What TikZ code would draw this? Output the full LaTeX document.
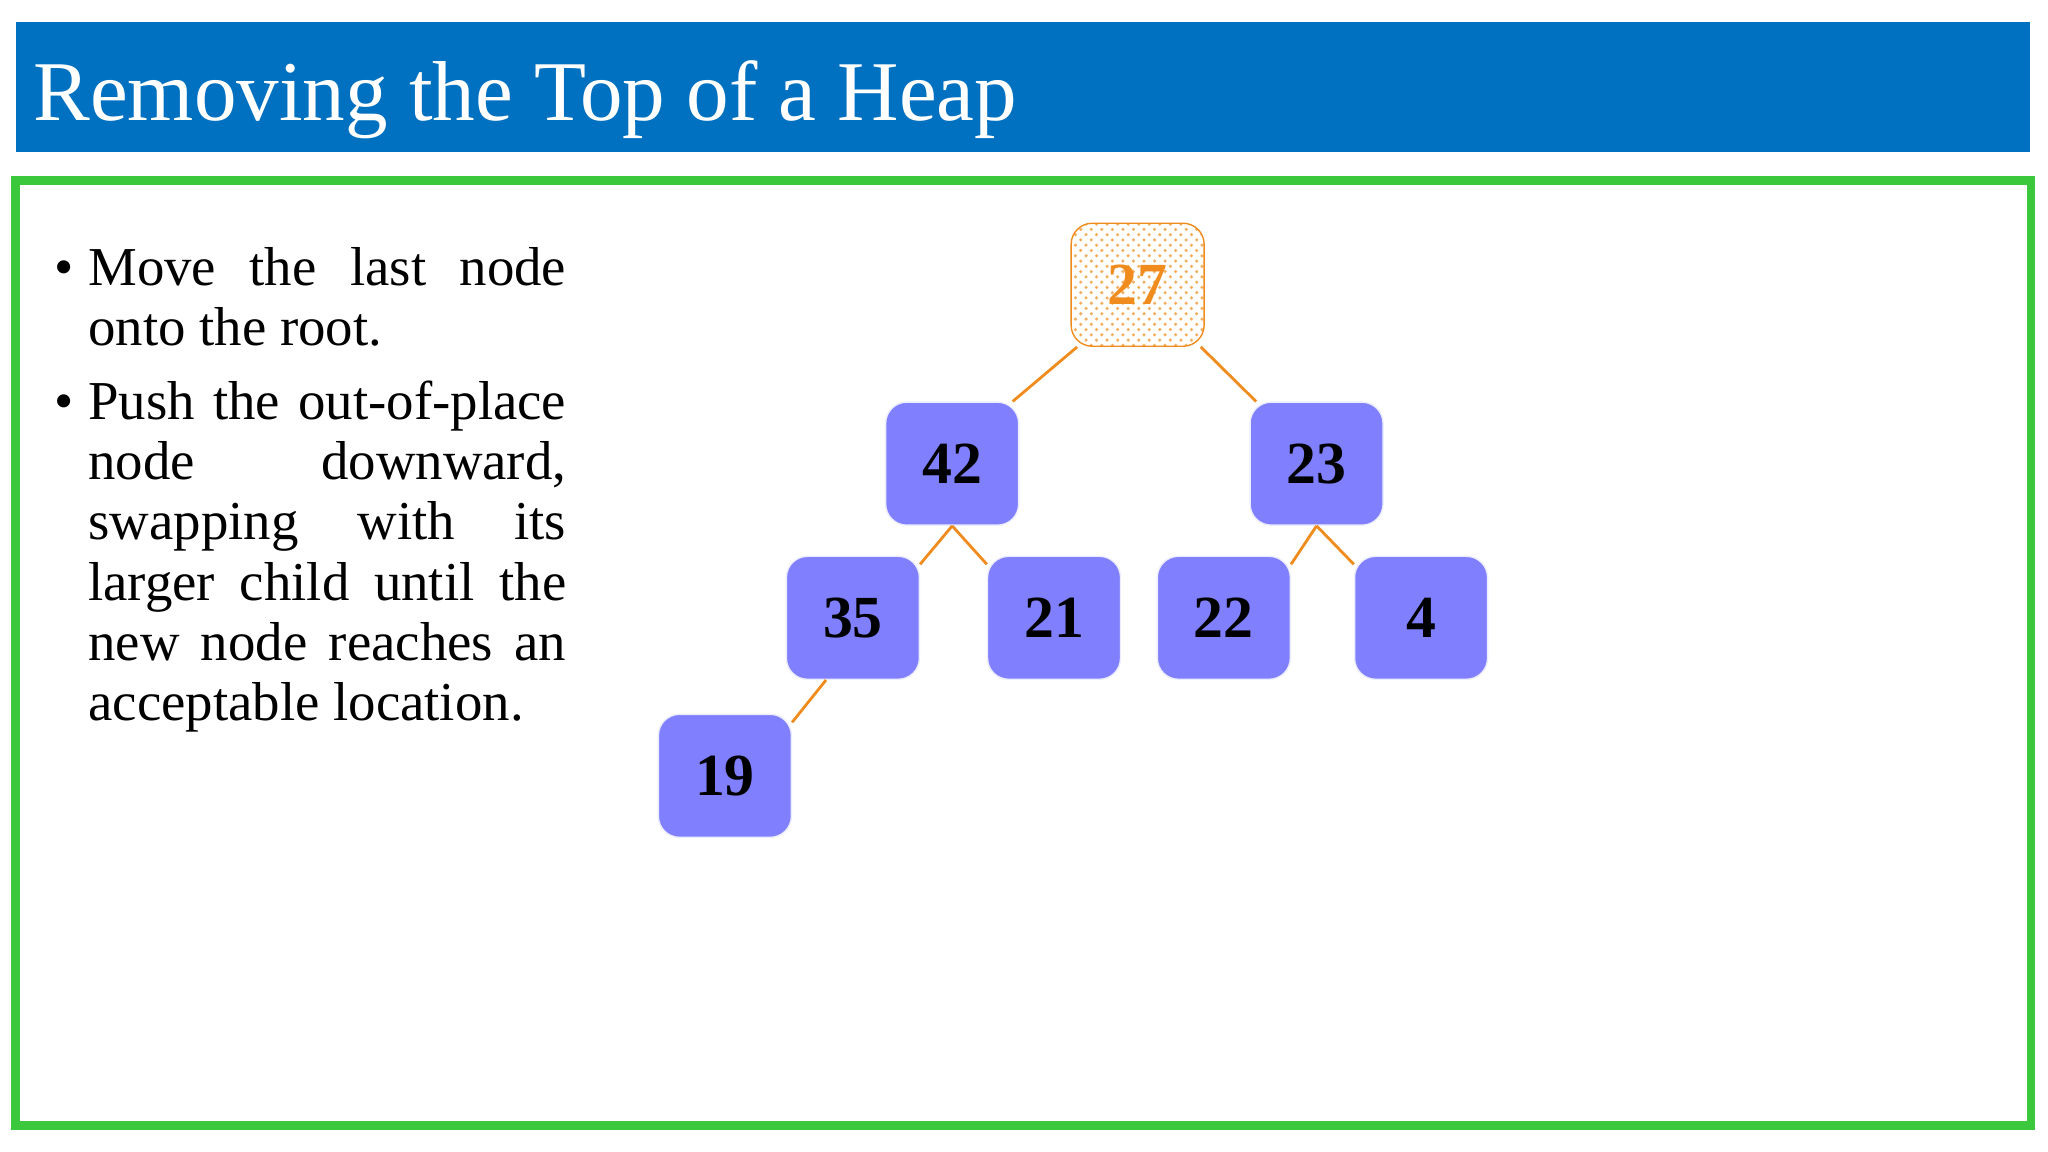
\documentclass[tikz,border=0pt]{standalone}
\usepackage{fontspec}
\setmainfont{Liberation Serif}
\usepackage{enumitem}
\usetikzlibrary{patterns,calc}

\definecolor{titleblue}{RGB}{0,112,192}
\definecolor{framegreen}{RGB}{60,200,60}
\definecolor{heapfill}{RGB}{128,128,255}
\definecolor{edgeorange}{RGB}{240,140,30}

\tikzset{
  heapnode/.style={rectangle, rounded corners=6pt, draw=white!85!heapfill, fill=heapfill,
    minimum width=1.33cm, minimum height=1.23cm, font=\fontsize{17}{17}\selectfont\bfseries},
  rootnode/.style={heapnode, draw=edgeorange, fill=white, pattern=crosshatch dots, pattern color=edgeorange!70,
    text=edgeorange},
  heapedge/.style={draw=edgeorange, line width=0.8pt},
}

\begin{document}
\begin{tikzpicture}[x=0.013061cm, y=-0.013061cm]
\useasboundingbox (0,0) rectangle (1568,882);

% title bar
\fill[titleblue] (12,17) rectangle (1554,116);
\node[anchor=base west, text=white, inner sep=0pt, font=\fontsize{24.2}{26}\selectfont] (title) at (25,92) {Removing the Top of a Heap};

% frame
\draw[framegreen, line width=2.5pt] (12,138) rectangle (1555,862);

% text column
\node[anchor=north west, inner sep=0pt, text width=5.16cm, align=justify, font=\fontsize{15.6}{17.1}\selectfont] (bullets) at (38,172) {%
\begin{itemize}[leftmargin=0.38cm, labelsep=0.15cm, itemsep=4pt, topsep=0pt, parsep=0pt]
\item Move the last node onto the root.
\item Push the out-of-place node downward, swapping with its larger child until the new node reaches an acceptable location.
\end{itemize}};

% heap
\node[rootnode] (n27) at (871,218) {27};
\node[heapnode] (n42) at (729,355) {42};
\node[heapnode] (n23) at (1008,355) {23};
\node[heapnode] (n35) at (653,473) {35};
\node[heapnode] (n21) at (807,473) {21};
\node[heapnode] (n22) at (937,473) {22};
\node[heapnode] (n4) at (1088,473) {4};
\node[heapnode] (n19) at (555,594) {19};

\draw[heapedge] ($(n27.south west)!0.05!(n27.south east)$) -- ($(n42.north east)!0.05!(n42.north west)$);
\draw[heapedge] ($(n27.south east)!0.03!(n27.south west)$) -- ($(n23.north west)!0.05!(n23.north east)$);
\draw[heapedge] (n42.south) -- ($(n35.north east)!0.07!(n35.south east)$);
\draw[heapedge] (n42.south) -- ($(n21.north west)!0.07!(n21.south west)$);
\draw[heapedge] (n23.south) -- ($(n22.north east)!0.07!(n22.south east)$);
\draw[heapedge] (n23.south) -- ($(n4.north west)!0.07!(n4.south west)$);
\draw[heapedge] ($(n35.south)!0.4!(n35.south west)$) -- ($(n19.north east)!0.07!(n19.south east)$);
\end{tikzpicture}
\end{document}
